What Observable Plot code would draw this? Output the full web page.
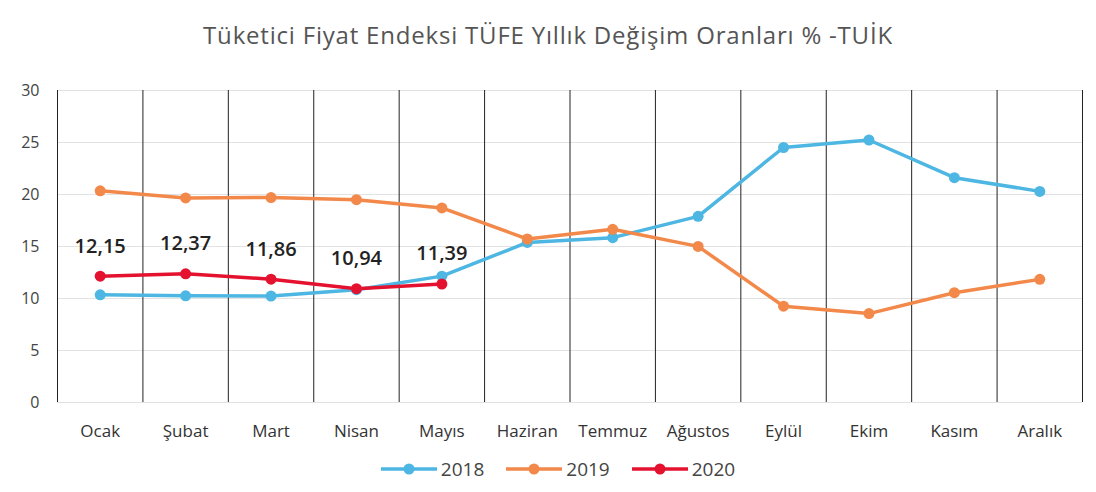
<!DOCTYPE html>
<html>
<head>
<meta charset="utf-8">
<script src="https://cdn.jsdelivr.net/npm/d3@7"></script>
<script src="https://cdn.jsdelivr.net/npm/@observablehq/plot@0.6"></script>
<style>
  body { margin: 0; background: #fff; font-family: "Open Sans", sans-serif; }
  #title { height: 70px; line-height: 70px; text-align: center; font-size: 24px; letter-spacing: 0.8px; color: #555; }
  #legend { display: flex; justify-content: center; gap: 22px; font-size: 19px; color: #444; margin-top: 14px; padding-left: 20px; }
  .item { display: flex; align-items: center; gap: 4px; }
</style>
</head>
<body>
<div id="title">Tüketici Fiyat Endeksi TÜFE Yıllık Değişim Oranları % -TUİK</div>
<div id="chart"></div>
<div id="legend"></div>
<script>
const months = ["Ocak","Şubat","Mart","Nisan","Mayıs","Haziran","Temmuz","Ağustos","Eylül","Ekim","Kasım","Aralık"];
const years = ["2018","2019","2020"];
const colors = ["#4db6e2","#f2894a","#e4122f"];
const v2018 = [10.35,10.26,10.23,10.85,12.15,15.39,15.85,17.90,24.52,25.24,21.62,20.30];
const v2019 = [20.35,19.67,19.71,19.50,18.71,15.72,16.65,15.01,9.26,8.55,10.56,11.84];
const v2020 = [12.15,12.37,11.86,10.94,11.39];
const yTicks = [0,5,10,15,20,25,30];

const series = [v2018, v2019, v2020];
const data = [];
series.forEach((vals, s) => vals.forEach((v, i) => data.push({year: years[s], i, month: months[i], value: v})));
const edges = d3.range(months.length + 1).map(k => k - 0.5);
const fmt = v => v.toFixed(2).replace(".", ",");

const plot = Plot.plot({
  width: 1096,
  height: 372,
  marginTop: 20,
  marginBottom: 40,
  marginLeft: 57,
  marginRight: 14,
  style: {fontFamily: "Open Sans, sans-serif", fontSize: "16px", color: "#333"},
  x: {domain: [-0.5, months.length - 0.5]},
  y: {domain: [0, 30]},
  color: {domain: years, range: colors},
  marks: [
    Plot.gridY(yTicks, {stroke: "#e2e2e2", strokeOpacity: 1}),
    Plot.ruleX(edges, {y1: 0, y2: 30, stroke: "#222", strokeWidth: 1}),
    Plot.axisY(yTicks, {tickSize: 0, tickPadding: 18, label: null, fontSize: 16, fill: "#444"}),
    Plot.axisX(d3.range(months.length), {tickSize: 0, tickPadding: 22, tickFormat: i => months[i], label: null, fontSize: 17, fill: "#333"}),
    Plot.line(data, {x: "i", y: "value", z: "year", stroke: "year", strokeWidth: 3.5}),
    Plot.dot(data, {x: "i", y: "value", fill: "year", r: 5.5}),
    Plot.text(data.filter(d => d.year === "2020"), {x: "i", y: "value", text: d => fmt(d.value), dy: -30, fontSize: 20, fontWeight: 600, fill: "#222"})
  ]
});
document.getElementById("chart").append(plot);

const legend = document.getElementById("legend");
years.forEach((y, k) => {
  const item = document.createElement("div");
  item.className = "item";
  item.innerHTML = `<svg width="56" height="16"><line x1="0" y1="8" x2="56" y2="8" stroke="${colors[k]}" stroke-width="3.5"/><circle cx="28" cy="8" r="5.5" fill="${colors[k]}"/></svg><span>${y}</span>`;
  legend.append(item);
});
</script>
</body>
</html>
